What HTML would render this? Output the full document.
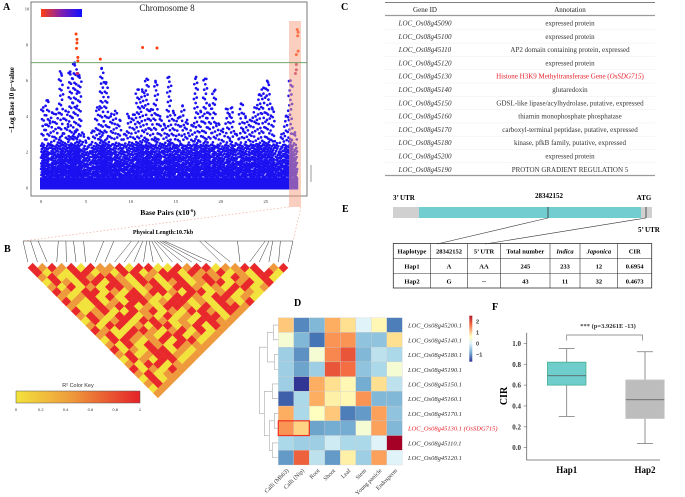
<!DOCTYPE html>
<html><head><meta charset="utf-8">
<style>
html,body{margin:0;padding:0;background:#fff;}
svg{display:block;font-family:"Liberation Serif",serif;}
</style></head>
<body>
<svg id="fig" width="685" height="497" viewBox="0 0 685 497" xmlns="http://www.w3.org/2000/svg">
<defs></defs>
<g id="pA"></g>
<g id="pB"></g>
<g id="pC"></g>
<g id="pE"></g>
<g id="pD"></g>
<g id="pF"></g>
</svg>
<script>
// ===== Panel A data =====
const manBinStart = 0, manBinWidth = 0.5;
const manEnvelope = [4.5,4.9,4.2,4.4,6.4,4.3,6.5,7.0,6.3,3.0,2.8,3.2,4.5,6.7,5.9,4.0,4.3,3.8,3.0,4.0,4.1,5.5,5.5,6.1,4.4,5.9,4.0,3.5,6.2,4.2,3.9,4.6,3.8,3.5,6.2,4.3,6.1,4.6,5.4,3.6,3.3,4.4,4.5,3.0,4.7,4.0,3.8,4.5,5.2,5.6,5.9,4.4,2.5,3.0,4.0,6.0,3.1];
const manOutX = [3.9,4.0,4.0,3.95,4.1,4.1,4.1,4.0,6.6,11.3,12.9,28.5,28.6,28.55,28.6,28.4,28.4,28.4,28.3];
const manOutY = [8.6,8.3,8.1,7.8,7.3,7.1,6.4,6.4,7.2,7.85,7.82,8.85,8.7,8.5,7.65,7.45,6.9,6.6,6.4];
const manXTicks = [0,5,10,15,20,25];
const manYTicks = [0,2,4,6,8,10];
const threshold = 7;
// ===== Panel B data =====
const ldRows = [
"rororyrooryrryyrorryoorrwory","ryoyrryoyrryorryrooryoyrry","oryyrorroyroyrryoroyroyryo","yroyrryroyrryoryorryoryry","oyryoyrroyoryrroyoyrryo",
"royrryoyryrroyrryoryoyr","oyoryryrroyyrroyrryoy","royryoyrryorryoyroyr","oyyrorryoyrroyryrro","ryoryyroryoyrroyr",
"oroyrryoyryoyrry","yryoryrroyoyrro","oyrryoyrryoryr","royyrroyoryry","oryrooyrryoy",
"yrroyoryrry","oyryroyroo","ryoyrryoy","oryorroy","yroyrry","oyrryo","ryoyr","oryo","yry","or","y","o"];
const snpPosKb = [0,0.3,0.6,1.4,1.7,2.0,2.4,3.2,3.6,4.3,4.6,4.75,4.9,5.0,5.1,5.2,5.3,5.4,5.5,5.6,7.0,7.2,8.5,9.6,9.75,9.9,10.2,10.7];
const r2Ticks = ["0","0.2","0.4","0.6","0.8","1"];
// ===== Panel C data =====
const geneIds = ["LOC_Os08g45090","LOC_Os08g45100","LOC_Os08g45110","LOC_Os08g45120","LOC_Os08g45130","LOC_Os08g45140","LOC_Os08g45150","LOC_Os08g45160","LOC_Os08g45170","LOC_Os08g45180","LOC_Os08g45200","LOC_Os08g45190"];
const geneAnn = ["expressed protein","expressed protein","AP2 domain containing protein, expressed","expressed protein","Histone H3K9 Methyltransferase Gene (OsSDG715)","glutaredoxin","GDSL-like lipase/acylhydrolase, putative, expressed","thiamin monophosphate phosphatase","carboxyl-terminal peptidase, putative, expressed","kinase, pfkB family, putative, expressed","expressed protein","PROTON GRADIENT REGULATION 5"];
// ===== Panel D data =====
const hmRows = ["LOC_Os08g45200.1","LOC_Os08g45140.1","LOC_Os08g45180.1","LOC_Os08g45190.1","LOC_Os08g45150.1","LOC_Os08g45160.1","LOC_Os08g45170.1","LOC_Os08g45130.1","LOC_Os08g45110.1","LOC_Os08g45120.1"];
const hmCols = ["Calli (Mh63)","Calli (Nip)","Root","Shoot","Leaf","Stem","Young panicle","Endosperm"];
const hmVals = [
[0.8,-1.2,-0.7,1.0,0.6,-0.1,0.3,-1.3],
[0.1,-0.7,-1.4,1.2,1.2,-0.6,-0.6,0.6],
[-0.5,-1.1,0.1,1.3,1.7,-0.7,-0.3,-0.4],
[-0.5,-0.9,-0.5,1.7,1.5,-0.6,-0.4,0.1],
[-0.5,-2.0,1.0,0.6,0.3,-0.8,0.6,-0.3],
[-1.6,-0.4,1.0,0.4,0.3,1.2,-0.7,-0.7],
[1.0,-0.4,0.2,0.8,-1.3,-1.0,1.1,-0.6],
[1.2,0.7,-0.9,-0.8,-0.8,0.1,1.1,-0.7],
[-0.4,-0.5,-0.5,-0.2,-0.4,-0.4,-0.1,2.6],
[-1.0,1.6,-0.3,-1.0,0.4,-0.5,1.1,-0.1]];
const hmTicks = [2,1,0,-1];
// ===== Panel F data =====
const boxNames = ["Hap1","Hap2"];
const boxMin = [0.30,0.04], boxQ1 = [0.60,0.28], boxMed = [0.69,0.46], boxQ3 = [0.82,0.65], boxMax = [0.95,0.92];
const cirTicks = [0.0,0.2,0.4,0.6,0.8,1.0];

const NS="http://www.w3.org/2000/svg";
function mk(parent,tag,attrs,text){const e=document.createElementNS(NS,tag);for(const k in attrs)e.setAttribute(k,attrs[k]);if(text!==undefined)e.textContent=text;parent.appendChild(e);return e;}
const fig=document.getElementById('fig');
const defs=fig.querySelector('defs');

// ---------- Panel A ----------
(function(){
const g=document.getElementById('pA');
const xs=v=>41+v*8.99, ys=v=>188-v*17.9;
let t=mk(g,'text',{x:3,y:10,'font-size':10,'font-weight':'bold'},'A');

let r=mk(g,'rect',{x:31,y:2,width:276,height:194,fill:'none',stroke:'#777','stroke-width':1});

const dots=mk(g,'g',{fill:'#1a10f0'});

let band=mk(dots,'rect',{x:xs(0)-1,y:ys(0.6),width:xs(28.5)-xs(0)+2,height:ys(0)-ys(0.6)+1.5});

let k=0;
manEnvelope.forEach((env,b)=>{
  const x0=manBinStart+b*manBinWidth;
  const px0=xs(x0), px1=xs(x0+manBinWidth), bw=px1-px0;
  for(let v=0.6;v<=env;v+=0.17){
    const frac=v/env;
    const n=Math.max(1,Math.round(5*(1-frac)*(1-frac)+ (v<2.4?2:0)));
    for(let j=0;j<n;j++){
      k++;
      const f=(k*0.6180339)%1;
      const c=mk(dots,'circle',{cx:px0+f*bw,cy:ys(v+((k*0.37)%1)*0.15),r:1.35});
      
    }
  }
  const ct=mk(dots,'circle',{cx:px0+bw*0.5,cy:ys(env),r:1.35});
  
});
manOutX.forEach((x,i)=>{
  const v=manOutY[i];
  const c=mk(g,'circle',{cx:xs(x),cy:ys(v),r:1.5,fill:v>=7?'#ff4010':'#c03070'});
  
});
let hl=mk(g,'rect',{x:289,y:21,width:12,height:186,fill:'#f7a080','fill-opacity':0.5});

let th=mk(g,'line',{x1:31,x2:307,y1:ys(threshold),y2:ys(threshold),stroke:'#5a9a50','stroke-width':0.8});

manXTicks.forEach(v=>{let l=mk(g,'text',{x:xs(v),y:203,'font-size':4.5,'text-anchor':'middle',fill:'#333'},String(v));
  });
manYTicks.forEach(v=>{let l=mk(g,'text',{x:27,y:ys(v)+1.5,'font-size':4.5,'text-anchor':'middle',fill:'#333'},String(v));
  });
let xl=mk(g,'text',{x:168,y:215,'font-size':7.5,'font-weight':'bold','text-anchor':'middle'},'Base Pairs (x10');

let sup=mk(xl,'tspan',{dy:-3,'font-size':4.5},'-6');

let cl=mk(xl,'tspan',{dy:3},')');

let yl=mk(g,'text',{x:14,y:100,'font-size':7,'font-weight':'bold','text-anchor':'middle',transform:'rotate(-90 14 100)'},'−Log Base 10 p−value');

let tt=mk(g,'text',{x:167,y:11,'font-size':9,'text-anchor':'middle',fill:'#222'},'Chromosome 8');

const lg=mk(defs,'linearGradient',{id:'pg',x1:0,x2:1,y1:0,y2:0});
mk(lg,'stop',{offset:0,'stop-color':'#ff4010'});mk(lg,'stop',{offset:0.5,'stop-color':'#8020b0'});mk(lg,'stop',{offset:1,'stop-color':'#1010ff'});
let cb=mk(g,'rect',{x:41,y:9,width:41,height:8,fill:'url(#pg)'});

let sb=mk(g,'line',{x1:311,x2:311,y1:165,y2:182,stroke:'#999','stroke-width':1});

let d1=mk(g,'line',{x1:289,y1:207,x2:23,y2:241,stroke:'#f5a090','stroke-width':0.6,'stroke-dasharray':'1.5,2'});

let d2=mk(g,'line',{x1:301,y1:207,x2:293,y2:241,stroke:'#f5a090','stroke-width':0.6,'stroke-dasharray':'1.5,2'});

})();

// ---------- Panel B ----------
(function(){
const g=document.getElementById('pB');
const N=snpPosKb.length, x0=23, x1=293, w=(x1-x0)/N, y0=263;
const col={y:'#f2e23c',o:'#ee9a3c',r:'#e8282a',w:'#ffffff',m:'#ef7a30'};
let lb=mk(g,'text',{x:4,y:252,'font-size':10,'font-weight':'bold'},'B');

let pl=mk(g,'text',{x:163,y:234,'font-size':6,'font-weight':'bold','text-anchor':'middle'},'Physical Length:10.7kb');

let tl=mk(g,'line',{x1:x0,x2:x1,y1:241,y2:241,stroke:'#333','stroke-width':0.6});

const maxKb=snpPosKb[N-1];
snpPosKb.forEach((p,i)=>{
  const l=mk(g,'line',{x1:x0+p/maxKb*(x1-x0),y1:241,x2:x0+(i+0.5)*w,y2:262,stroke:'#333','stroke-width':0.5});
  
});
for(let d=1;d<N;d++){
  const row=ldRows[d-1]||'';
  for(let i=0;i+d<N;i++){
    const ch=row.charAt(i)||'o';
    const cx=x0+((2*i+d)/2+0.5)*w, cy=y0+d*w/2;
    const pts=[[cx,cy-w/2],[cx+w/2,cy],[cx,cy+w/2],[cx-w/2,cy]].map(p=>p.join(',')).join(' ');
    const c=mk(g,'polygon',{points:pts,fill:col[ch],stroke:col[ch],'stroke-width':0.3});
    
  }
}
const kg=mk(defs,'linearGradient',{id:'r2g',x1:0,x2:1,y1:0,y2:0});
mk(kg,'stop',{offset:0,'stop-color':'#f2e23c'});mk(kg,'stop',{offset:0.45,'stop-color':'#ee9a3c'});mk(kg,'stop',{offset:1,'stop-color':'#e52228'});
let kt=mk(g,'text',{x:78,y:387,'font-size':5.5,'text-anchor':'middle',fill:'#333','font-family':'Liberation Sans'},'R² Color Key');

let kr=mk(g,'rect',{x:16,y:391,width:124,height:12,fill:'url(#r2g)',stroke:'#555','stroke-width':0.5});

r2Ticks.forEach((s,i)=>{const l=mk(g,'text',{x:16+i*124/5,y:411,'font-size':4,'text-anchor':'middle',fill:'#333','font-family':'Liberation Sans'},s);
  });
})();

// ---------- Panel C ----------
(function(){
const g=document.getElementById('pC');
let lb=mk(g,'text',{x:341,y:10,'font-size':10,'font-weight':'bold'},'C');

const L=385,R=655;
let l=mk(g,'line',{x1:L,x2:R,y1:2.5,y2:2.5,stroke:'#555','stroke-width':0.8});
l=mk(g,'line',{x1:L,x2:R,y1:15.5,y2:15.5,stroke:'#999','stroke-width':1.2});
l=mk(g,'line',{x1:L,x2:R,y1:175.5,y2:175.5,stroke:'#999','stroke-width':1.2});
let h=mk(g,'text',{x:425,y:12,'font-size':7,'text-anchor':'middle',fill:'#222'},'Gene ID');
h=mk(g,'text',{x:570,y:12,'font-size':7,'text-anchor':'middle',fill:'#222'},'Annotation');
geneIds.forEach((id,i)=>{
  const y=25.5+i*13.3;
  if(i>0){const s=mk(g,'line',{x1:L,x2:R,y1:y-9,y2:y-9,stroke:'#eee','stroke-width':0.5});}
  const a=mk(g,'text',{x:425,y:y,'font-size':7,'font-style':'italic','text-anchor':'middle',fill:'#333'},id);
  
  const red=geneAnn[i].indexOf('OsSDG715')>=0;
  const b=mk(g,'text',{x:570,y:y,'font-size':7,'text-anchor':'middle',fill:red?'#e8202a':'#333'});
  
  if(red){b.textContent='Histone H3K9 Methyltransferase Gene (';const ts=mk(b,'tspan',{'font-style':'italic'},'OsSDG715');b.appendChild(document.createTextNode(')'));}
  else b.textContent=geneAnn[i];
});
})();

// ---------- Panel E ----------
(function(){
const g=document.getElementById('pE');
let lb=mk(g,'text',{x:342,y:212,'font-size':10,'font-weight':'bold'},'E');
let t=mk(g,'text',{x:393,y:200,'font-size':7,'font-weight':'bold'},'3’ UTR');
t=mk(g,'text',{x:549,y:198,'font-size':7,'font-weight':'bold','text-anchor':'middle'},'28342152');
t=mk(g,'text',{x:644,y:200,'font-size':7,'font-weight':'bold','text-anchor':'middle'},'ATG');
t=mk(g,'text',{x:638,y:232,'font-size':7,'font-weight':'bold'},'5’ UTR');
let r=mk(g,'rect',{x:393,y:207,width:259,height:11,fill:'#d0d0d0'});
r=mk(g,'rect',{x:419,y:207,width:222,height:11,fill:'#72cdd0'});
let l=mk(g,'line',{x1:548,x2:548,y1:207,y2:218,stroke:'#333','stroke-width':0.8});
l=mk(g,'line',{x1:646,x2:646,y1:207,y2:218,stroke:'#333','stroke-width':0.8});
l=mk(g,'line',{x1:548,y1:218,x2:437,y2:244,stroke:'#333','stroke-width':0.6});
l=mk(g,'line',{x1:646,y1:218,x2:485,y2:244,stroke:'#333','stroke-width':0.6});
const cx=[393.3,430.7,467.3,500.7,550,580,617.7,651.7];
const rows=[["Haplotype","28342152","5’ UTR","Total number","Indica","Japonica","CIR"],["Hap1","A","AA","245","233","12","0.6954"],["Hap2","G","--","43","11","32","0.4673"]];
const ty=[243.5,258.5,273.5,288];
let tb=mk(g,'rect',{x:393.3,y:243.5,width:258.4,height:44.5,fill:'none',stroke:'#333','stroke-width':0.8});
[258.5,273.5].forEach(y=>{const s=mk(g,'line',{x1:393.3,x2:651.7,y1:y,y2:y,stroke:'#333','stroke-width':0.6});});
cx.slice(1,7).forEach(x=>{const s=mk(g,'line',{x1:x,x2:x,y1:243.5,y2:288,stroke:'#333','stroke-width':0.6});});
rows.forEach((row,ri)=>row.forEach((s,ci)=>{
  const it=(ri===0&&(ci===4||ci===5));
  const e=mk(g,'text',{x:(cx[ci]+cx[ci+1])/2,y:ty[ri]+10,'font-size':6.5,'font-weight':'bold','font-style':it?'italic':'normal','text-anchor':'middle'},s);
  
}));
})();

// ---------- Panel D ----------
(function(){
const g=document.getElementById('pD');
const X0=278.3,Y0=317.7,cw=15.5,rh=14.73;
const stops=[[-2,'#313695'],[-1.4,'#4575b4'],[-0.8,'#74add1'],[-0.4,'#abd9e9'],[-0.1,'#e0f3f8'],[0.2,'#ffffbf'],[0.6,'#fee090'],[1.0,'#fdae61'],[1.5,'#f46d43'],[2.0,'#d73027'],[2.6,'#a50026']];
function hex(c){return [1,3,5].map(i=>parseInt(c.substr(i,2),16));}
function color(v){if(v<=stops[0][0])return stops[0][1];for(let i=1;i<stops.length;i++){if(v<=stops[i][0]){const f=(v-stops[i-1][0])/(stops[i][0]-stops[i-1][0]);const a=hex(stops[i-1][1]),b=hex(stops[i][1]);return 'rgb('+a.map((x,k)=>Math.round(x+(b[k]-x)*f)).join(',')+')';}}return stops[stops.length-1][1];}
let lb=mk(g,'text',{x:294,y:306,'font-size':10,'font-weight':'bold'},'D');
hmVals.forEach((row,ri)=>row.forEach((v,ci)=>{
  const c=mk(g,'rect',{x:X0+ci*cw,y:Y0+ri*rh,width:cw,height:rh,fill:color(v),stroke:'#ccc','stroke-width':0.3});
  
}));
let hr=mk(g,'rect',{x:X0,y:Y0+7*rh,width:2*cw,height:rh,fill:'none',stroke:'#f03020','stroke-width':1.2});

hmRows.forEach((n,i)=>{
  const red=n.indexOf('45130')>=0;
  const t=mk(g,'text',{x:408,y:Y0+(i+0.5)*rh+2.5,'font-size':6.5,'font-style':'italic',fill:red?'#e8202a':'#333'},n+(red?'  (OsSDG715)':''));
  
});
hmCols.forEach((n,i)=>{
  const x=X0+(i+0.5)*cw+3,y=Y0+10*rh+6;
  const t=mk(g,'text',{x:x,y:y,'font-size':6,'text-anchor':'end',fill:'#333',transform:'rotate(-45 '+x+' '+y+')'},n);
  
});
const rc=i=>Y0+(i+0.5)*rh, dx=d=>X0-d;
const den=mk(g,'g',{stroke:'#aaa','stroke-width':0.6,fill:'none'});

function join(a,b,da,db,d){const p=mk(den,'path',{d:'M'+dx(da)+','+a+'H'+dx(d)+'V'+b+'H'+dx(db)});return (a+b)/2;}
const m01=join(rc(0),rc(1),0,0,5), m23=join(rc(2),rc(3),0,0,4);
const mA=join(m01,m23,5,4,11);
const m45=join(rc(4),rc(5),0,0,6);
const m67=join(rc(6),rc(7),0,0,4), m89=join(rc(8),rc(9),0,0,6);
const mB=join(m67,m89,4,6,9);
const mC=join(m45,mB,6,9,14);
join(mA,mC,11,14,19);
const cg=mk(defs,'linearGradient',{id:'hmg',x1:0,x2:0,y1:0,y2:1});
[[0,'#b2182b'],[0.2,'#f46d43'],[0.45,'#ffffbf'],[0.6,'#e0f3f8'],[0.8,'#74add1'],[1,'#313695']].forEach(s=>mk(cg,'stop',{offset:s[0],'stop-color':s[1]}));
let cb=mk(g,'rect',{x:469.3,y:315.7,width:3,height:46,fill:'url(#hmg)'});
const vy=v=>318+(2.3-v)/(2.3+1.6)*43;
hmTicks.forEach(v=>{const t=mk(g,'text',{x:476,y:vy(v)+2,'font-size':5.5,'font-weight':'bold',fill:'#333','font-family':'Liberation Sans'},v<0?'−'+(-v):String(v));
  });
})();

// ---------- Panel F ----------
(function(){
const g=document.getElementById('pF');
const ys=v=>447.7-v*104.3, cxs=[566.7,645], bw=38.5;
let lb=mk(g,'text',{x:492,y:310,'font-size':10,'font-weight':'bold'},'F');
let ax=mk(g,'path',{d:'M526.7,332.7V460H660',fill:'none',stroke:'#666','stroke-width':0.8});
cirTicks.forEach(v=>{
  const tk=mk(g,'line',{x1:523.7,x2:526.7,y1:ys(v),y2:ys(v),stroke:'#666','stroke-width':0.6});
  const t=mk(g,'text',{x:521,y:ys(v)+2.5,'font-size':7,'font-weight':'bold','text-anchor':'end',fill:'#333'},v.toFixed(1));
  
});
let yl=mk(g,'text',{x:507,y:396,'font-size':10,'font-weight':'bold','text-anchor':'middle',transform:'rotate(-90 507 396)'},'CIR');

const fills=['#6fcdcc','#bdbdbd'], strokes=['#44b08f','#c8c8c8'];
boxNames.forEach((n,i)=>{
  const c=cxs[i];
  const w=mk(g,'path',{d:'M'+c+','+ys(boxMax[i])+'V'+ys(boxQ3[i])+'M'+c+','+ys(boxQ1[i])+'V'+ys(boxMin[i])+'M'+(c-8)+','+ys(boxMax[i])+'H'+(c+8)+'M'+(c-8)+','+ys(boxMin[i])+'H'+(c+8),stroke:'#777','stroke-width':0.8,fill:'none'});
  
  const b=mk(g,'rect',{x:c-bw/2,y:ys(boxQ3[i]),width:bw,height:ys(boxQ1[i])-ys(boxQ3[i]),fill:fills[i],stroke:strokes[i],'stroke-width':0.8});
  
  const m=mk(g,'line',{x1:c-bw/2,x2:c+bw/2,y1:ys(boxMed[i]),y2:ys(boxMed[i]),stroke:'#555','stroke-width':0.8});
  
  const t=mk(g,'text',{x:c,y:473,'font-size':9,'font-weight':'bold','text-anchor':'middle'},n);
  
});
let br=mk(g,'path',{d:'M566.7,340.5V335H642.5V340.5',fill:'none',stroke:'#777','stroke-width':0.7});

let st=mk(g,'text',{x:608,y:328,'font-size':6.5,'font-weight':'bold','text-anchor':'middle',fill:'#333'},'*** (p=3.9261E -13)');

})();
</script>
</body></html>
